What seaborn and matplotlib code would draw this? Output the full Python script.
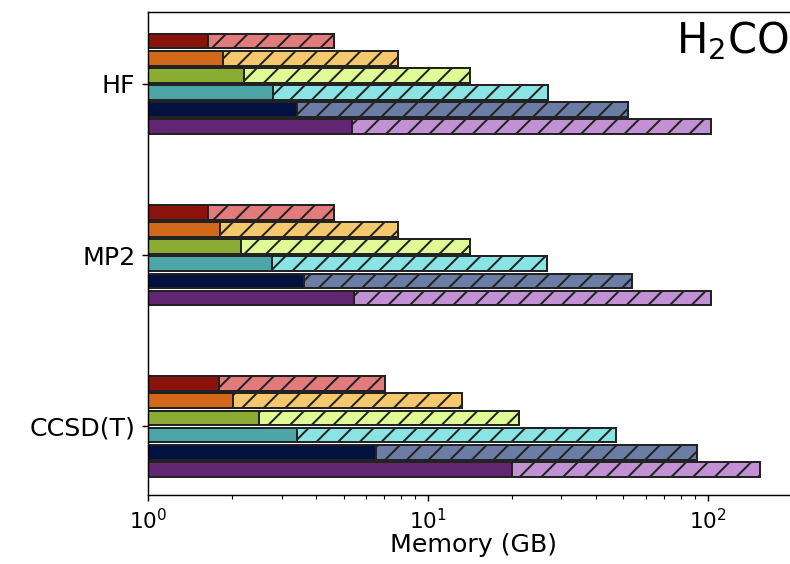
import matplotlib
matplotlib.use("Agg")
import matplotlib.pyplot as plt
import seaborn as sns
import pandas as pd

methods = ["HF", "MP2", "CCSD(T)"]
series = ["S1", "S2", "S3", "S4", "S5", "S6"]

solid_HF = [1.64, 1.85, 2.21, 2.79, 3.41, 5.34]
total_HF = [4.63, 7.81, 14.1, 26.8, 52.1, 102.8]
solid_MP2 = [1.64, 1.81, 2.15, 2.77, 3.61, 5.43]
total_MP2 = [4.62, 7.81, 14.1, 26.6, 53.5, 102.5]
solid_CCSD = [1.79, 2.01, 2.49, 3.41, 6.51, 20.0]
total_CCSD = [7.02, 13.3, 21.1, 47.2, 91.3, 153.4]

solid_colors = ["#8b130c", "#d2691a", "#8aab34", "#4ca6a7", "#021140", "#622673"]
hatch_colors = ["#e27b7b", "#f5c86e", "#e0fa96", "#8ae4e4", "#6b7ca5", "#c291d3"]

rows = []
for m, sv, tv in zip(methods, [solid_HF, solid_MP2, solid_CCSD], [total_HF, total_MP2, total_CCSD]):
    for s, a, b in zip(series, sv, tv):
        rows.append({"method": m, "series": s, "solid": a, "total": b})
df = pd.DataFrame(rows)

DPI = 130
plt.rcParams["hatch.linewidth"] = 1.1
fig = plt.figure(figsize=(790 / DPI, 564 / DPI), dpi=DPI)
ax = fig.add_axes([148 / 790, 69 / 564, 651 / 790, 483 / 564])
ax.set_xscale("log")

common = dict(y="method", hue="series", orient="h", order=methods, hue_order=series,
              width=0.6, gap=0.14, edgecolor="#222222", linewidth=1.1, saturation=1,
              errorbar=None, legend=False, ax=ax)
sns.barplot(data=df, x="total", palette=hatch_colors, hatch="//", **common)
sns.barplot(data=df, x="solid", palette=solid_colors, **common)

ax.set_xscale("log")
ax.set_xlim(1, 212)
ax.set_ylim(2.40, -0.42)
ax.set_ylabel("")
ax.set_xlabel("Memory (GB)", fontsize=14, labelpad=0)
ax.tick_params(axis="y", labelsize=14)
ax.tick_params(axis="x", labelsize=12)
ax.text(0.811, 0.914, r"H$_2$CO", transform=ax.transAxes, fontsize=23)

fig.savefig("out.png", dpi=DPI)
